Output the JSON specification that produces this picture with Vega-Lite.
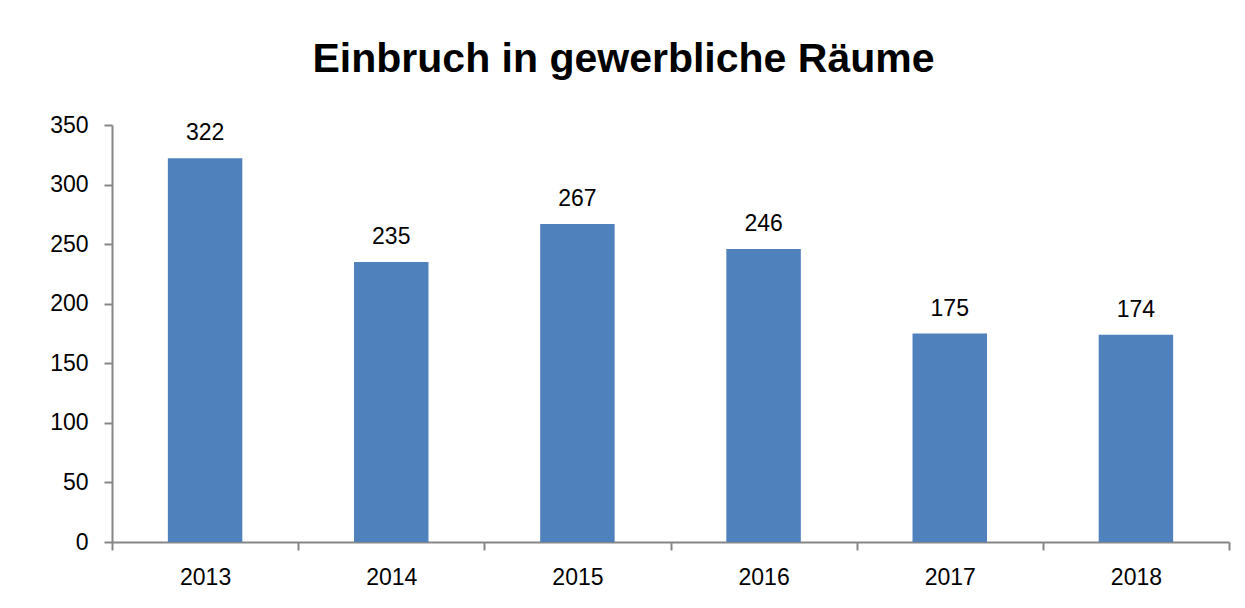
{
  "$schema": "https://vega.github.io/schema/vega-lite/v6.json",
  "width": 1117,
  "height": 417,
  "autosize": {"type": "none"},
  "padding": {"left": 112, "top": 125, "right": 16, "bottom": 66},
  "background": "white",
  "title": {
    "text": "Einbruch in gewerbliche Räume",
    "font": "Liberation Sans",
    "fontSize": 41,
    "fontWeight": "bold",
    "color": "black",
    "anchor": "middle",
    "frame": "group",
    "dx": -47,
    "baseline": "alphabetic",
    "offset": 1
  },
  "config": {"view": {"stroke": null}, "font": "Liberation Sans"},
  "data": {
    "values": [
      {"Jahr": "2013", "Anzahl": 322},
      {"Jahr": "2014", "Anzahl": 235},
      {"Jahr": "2015", "Anzahl": 267},
      {"Jahr": "2016", "Anzahl": 246},
      {"Jahr": "2017", "Anzahl": 175},
      {"Jahr": "2018", "Anzahl": 174}
    ]
  },
  "encoding": {
    "x": {
      "field": "Jahr",
      "type": "ordinal",
      "scale": {"paddingInner": 0, "paddingOuter": 0},
      "axis": {
        "title": null,
        "labelAngle": 0,
        "tickBand": "extent",
        "domainColor": "#868686",
        "domainWidth": 2,
        "tickColor": "#868686",
        "tickWidth": 2,
        "tickSize": 8,
        "labelFontSize": 23,
        "labelColor": "black",
        "labelPadding": 16,
        "grid": false
      }
    },
    "y": {
      "field": "Anzahl",
      "type": "quantitative",
      "scale": {"domain": [0, 350]},
      "axis": {
        "title": null,
        "values": [0, 50, 100, 150, 200, 250, 300, 350],
        "grid": false,
        "domainColor": "#868686",
        "domainWidth": 2,
        "tickColor": "#868686",
        "tickWidth": 2,
        "tickSize": 8,
        "labelFontSize": 23,
        "labelColor": "black",
        "labelPadding": 16
      }
    }
  },
  "layer": [
    {"mark": {"type": "bar", "color": "#4F81BD", "width": {"band": 0.4}}},
    {
      "mark": {
        "type": "text",
        "baseline": "alphabetic",
        "dy": -18,
        "fontSize": 23,
        "color": "black"
      },
      "encoding": {"text": {"field": "Anzahl", "type": "quantitative"}}
    }
  ]
}
